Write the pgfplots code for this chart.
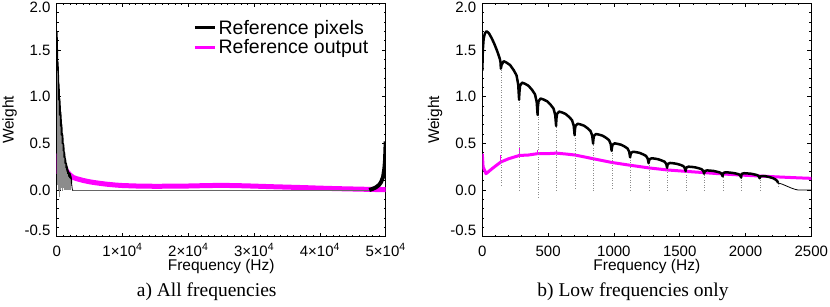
\documentclass[border=0pt]{standalone}
\usepackage{fontspec}
\setmainfont{Liberation Sans}
\newfontfamily\capfont{Liberation Serif}
\usepackage{pgfplots}
\usepackage{pgfplotstable}
\pgfplotsset{compat=1.18}
\definecolor{mag}{RGB}{255,0,255}

% black "Reference pixels": lobes, 0-2250 Hz
\pgfplotstableread{
x y
0 1.28
4 1.50
10 1.62
20 1.68
33 1.70
50 1.68
70 1.63
90 1.57
110 1.50
125 1.44
134 1.40
139.5 1.36
140.6 1.30
146.2 1.339
161.7 1.380
182.8 1.366
210.9 1.339
239.0 1.283
260.1 1.228
272.8 1.132
279.8 0.966
281.2 1.035
286.8 1.116
302.3 1.150
323.4 1.139
351.5 1.116
379.6 1.070
400.7 1.024
413.4 0.943
420.4 0.805
421.8 0.882
427.4 0.951
442.9 0.980
464.0 0.970
492.1 0.951
520.2 0.911
541.3 0.872
554.0 0.804
561.0 0.686
562.4 0.756
568.0 0.815
583.5 0.840
604.6 0.832
632.7 0.815
660.8 0.781
681.9 0.748
694.6 0.689
701.6 0.588
703.0 0.639
708.6 0.689
724.1 0.710
745.2 0.703
773.3 0.689
801.4 0.660
822.5 0.632
835.2 0.582
842.2 0.497
843.6 0.540
849.2 0.582
864.7 0.600
885.8 0.594
913.9 0.582
942.0 0.558
963.1 0.534
975.8 0.492
982.8 0.420
984.2 0.450
989.8 0.485
1005.3 0.500
1026.4 0.495
1054.5 0.485
1082.6 0.465
1103.7 0.445
1116.4 0.410
1123.4 0.350
1124.8 0.369
1130.4 0.398
1145.9 0.410
1167.0 0.406
1195.1 0.398
1223.2 0.381
1244.3 0.365
1257.0 0.336
1264.0 0.287
1265.4 0.306
1271.0 0.330
1286.5 0.340
1307.6 0.337
1335.7 0.330
1363.8 0.316
1384.9 0.303
1397.6 0.279
1404.6 0.238
1406.0 0.261
1411.6 0.281
1427.1 0.290
1448.2 0.287
1476.3 0.281
1504.4 0.270
1525.5 0.258
1538.2 0.238
1545.2 0.203
1546.6 0.225
1552.2 0.243
1567.7 0.250
1588.8 0.248
1616.9 0.243
1645.0 0.233
1666.1 0.223
1678.8 0.205
1685.8 0.175
1687.2 0.189
1692.8 0.204
1708.3 0.210
1729.4 0.208
1757.5 0.204
1785.6 0.195
1806.7 0.187
1819.4 0.172
1826.4 0.147
1827.8 0.171
1833.4 0.184
1848.9 0.190
1870.0 0.188
1898.1 0.184
1926.2 0.177
1947.3 0.169
1960.0 0.156
1967.0 0.133
1968.4 0.162
1974.0 0.175
1989.5 0.180
2010.6 0.178
2038.7 0.175
2066.8 0.167
2087.9 0.160
2100.6 0.148
2107.6 0.126
2109.0 0.135
2114.6 0.146
2130.1 0.150
2151.2 0.148
2179.3 0.140
2207.4 0.128
2228.5 0.112
2241.2 0.095
2248.2 0.075
}\lobes

\pgfplotstableread{
x y
2248.2 0.075
2252 0.065
2262 0.070
2280 0.062
2300 0.050
2325 0.035
2350 0.020
2375 0.008
2400 0.0
2500 0.0
}\tail

% deep dips at the nulls
\pgfplotstableread{
x y
140.6 0.05
140.6 1.30
140.6 nan
281.2 0.0
281.2 0.966
281.2 nan
421.8 -0.08
421.8 0.805
421.8 nan
562.4 0.0
562.4 0.686
562.4 nan
703.0 0.02
703.0 0.588
703.0 nan
843.6 -0.01
843.6 0.497
843.6 nan
984.2 0.02
984.2 0.420
984.2 nan
1124.8 0.0
1124.8 0.350
1124.8 nan
1265.4 0.0
1265.4 0.287
1265.4 nan
1406.0 0.0
1406.0 0.238
1406.0 nan
1546.6 0.0
1546.6 0.203
1546.6 nan
1687.2 0.0
1687.2 0.175
1687.2 nan
1827.8 0.0
1827.8 0.147
1827.8 nan
1968.4 0.0
1968.4 0.133
1968.4 nan
2109.0 0.0
2109.0 0.126
2109.0 nan
2249.6 0.04
2249.6 0.075
}\dips

% black near Nyquist
\pgfplotstableread{
x y
47500 0.0
48000 0.012
48500 0.028
49000 0.055
49300 0.085
49600 0.14
49800 0.23
49900 0.32
50000 0.52
}\hifreq

% magenta "Reference output", low frequencies
\pgfplotstableread{
x y
0 0.39
6 0.25
28 0.175
80 0.235
140.6 0.30
200 0.335
281.2 0.37
350 0.375
421.8 0.39
500 0.39
562.4 0.395
640 0.385
703 0.375
843.6 0.335
984.2 0.295
1124.8 0.265
1265.4 0.237
1406 0.215
1546.6 0.20
1687.2 0.186
1827.8 0.172
1968.4 0.16
2109 0.15
2250 0.14
2375 0.132
2500 0.125
}\maglow

\pgfplotstableread{
x y
140.6 0.30
140.6 0.37
140.6 nan
281.2 0.37
281.2 0.46
281.2 nan
421.8 0.39
421.8 0.43
421.8 nan
562.4 0.395
562.4 0.43
}\magspikes

% magenta, all frequencies
\pgfplotstableread{
x y
0 0.39
28 0.175
140.6 0.30
281.2 0.37
562.4 0.395
703 0.375
984.2 0.295
1265.4 0.237
1546.6 0.20
2000 0.163
2500 0.135
3000 0.122
4000 0.103
5000 0.088
6000 0.077
7500 0.063
9000 0.053
10000 0.048
12500 0.042
15000 0.040
17500 0.041
20000 0.043
22500 0.047
25000 0.050
27500 0.047
30000 0.042
32500 0.036
35000 0.031
37500 0.026
40000 0.020
42500 0.015
45000 0.011
47500 0.007
50000 0.003
}\magall

\pgfplotsset{
  panel/.style={
    scale only axis, width=329pt, height=233.4pt,
    ymin=-0.5, ymax=2.0,
    ytick={-0.5,0,0.5,1,1.5,2},
    yticklabels={\raisebox{6pt}[\height][\depth]{-0.5},0.0,0.5,1.0,1.5,\raisebox{-4pt}[\height][\depth]{2.0}},
    minor y tick num=4,
    scaled x ticks=false, scaled y ticks=false,
    tick align=inside, tick pos=both,
    major tick length=4pt, minor tick length=2pt,
    every tick/.style={black, line width=0.6pt},
    axis line style={line width=0.8pt},
    tick label style={font=\fontsize{15}{18}\selectfont},
    label style={font=\fontsize{15.5}{18}\selectfont},
    xlabel={Frequency (Hz)}, ylabel={Weight},
    xlabel style={at={(axis description cs:0.5,-0.1427)}, anchor=base, inner sep=0pt},
    ylabel style={at={(axis description cs:-0.1207,0.5)}, anchor=south, inner sep=0pt},
    x tick label style={anchor=base, yshift=-19.3pt, inner sep=0pt},
    y tick label style={anchor=east, xshift=-6pt, inner sep=0pt},
    unbounded coords=jump,
  }
}

\begin{document}
\begin{tikzpicture}
\useasboundingbox (0pt,0pt) rectangle (830pt,306pt);

\begin{axis}[panel,
  at={(56.7pt,69.3pt)}, anchor=south west,
  xmin=0, xmax=50000,
  xtick={0,10000,20000,30000,40000,50000},
  xticklabels={0,1×10\textsuperscript{4},2×10\textsuperscript{4},3×10\textsuperscript{4},4×10\textsuperscript{4},5×10\textsuperscript{4}},
  minor x tick num=9,
  legend image code/.code={\draw[#1, line width=3.5pt] (0pt,0pt) -- (20pt,0pt);},
  legend cell align=left,
  legend style={at={(0.405,0.947)}, anchor=north west, draw=none, fill=none,
    font=\fontsize{19.5}{22}\selectfont, row sep=0pt},
]
\addlegendimage{black}
\addlegendentry{Reference pixels}
\addlegendimage{mag}
\addlegendentry{Reference output}
\addplot[mag, line width=5pt, forget plot] table {\magall};
\addplot[black!60, line width=0.8pt, forget plot] coordinates {(2400,0) (47500,0)};
\addplot[black!45, line width=0.4pt, forget plot] table {\dips};
\addplot[black, line width=1.2pt, line join=round, forget plot] table {\lobes};
\addplot[black, line width=0.8pt, forget plot] table {\tail};
\addplot[black, line width=4pt, line join=round, forget plot] table {\hifreq};
\end{axis}

\begin{axis}[panel,
  at={(482.3pt,69.3pt)}, anchor=south west,
  xmin=0, xmax=2500,
  xtick={0,500,1000,1500,2000,2500},
  xticklabels={0,500,1000,1500,2000,2500},
  minor x tick num=4,
]
\addplot[mag, line width=3pt, line join=round] table {\maglow};
\addplot[mag, line width=1pt] table {\magspikes};
\addplot[black!45, dotted, line width=0.5pt] table {\dips};
\addplot[black, line width=2.5pt, line join=round] table {\lobes};
\addplot[black, line width=0.8pt] table {\tail};
\end{axis}

\node[anchor=base, font=\capfont\fontsize{19.5}{22}\selectfont] at (206.7pt,9.3pt) {a) All frequencies};
\node[anchor=base, font=\capfont\fontsize{19.5}{22}\selectfont] at (633pt,9.3pt) {b) Low frequencies only};
\end{tikzpicture}
\end{document}
